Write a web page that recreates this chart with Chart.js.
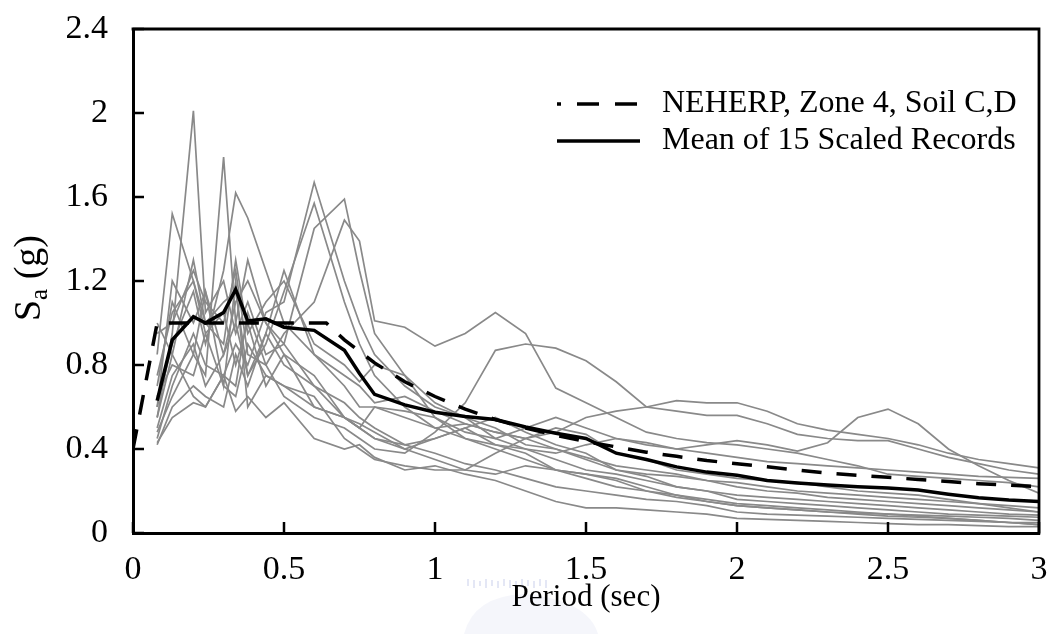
<!DOCTYPE html>
<html>
<head>
<meta charset="utf-8">
<script src="https://cdn.jsdelivr.net/npm/chart.js@4.4.1/dist/chart.umd.min.js"></script>
<style>
  html, body { margin: 0; padding: 0; background: #ffffff; }
  #wrap { width: 1053px; height: 634px; position: relative; }
  canvas { display: block; }
</style>
</head>
<body>
<div id="wrap"><canvas id="chart" width="1053" height="634"></canvas></div>
<script>
// Response-spectrum periods (sec) shared by the records and their mean
const periods = [0.08, 0.13, 0.2, 0.24, 0.3, 0.34, 0.38, 0.44, 0.5, 0.6, 0.7, 0.75, 0.8,
  0.9, 1.0, 1.1, 1.2, 1.3, 1.4, 1.5, 1.6, 1.7, 1.8, 1.9, 2.0, 2.1, 2.2, 2.3, 2.4, 2.5, 2.6, 2.7, 2.8, 2.9, 3.0];

// Spectral acceleration (g) of the 15 scaled ground-motion records
const record01 = [0.55, 0.95, 2.01, 1.05, 1.20, 0.95, 1.10, 0.85, 0.90, 0.70, 0.62, 0.55, 0.50,
  0.42, 0.38, 0.33, 0.30, 0.26, 0.22, 0.20, 0.18, 0.16, 0.15, 0.13, 0.10, 0.09, 0.085, 0.08, 0.075, 0.07, 0.065, 0.06, 0.055, 0.05, 0.05];
const record02 = [0.70, 1.10, 0.85, 0.75, 1.79, 1.00, 1.30, 1.00, 0.85, 0.75, 0.55, 0.50, 0.45,
  0.42, 0.45, 0.50, 0.55, 0.48, 0.42, 0.38, 0.30, 0.27, 0.22, 0.20, 0.18, 0.17, 0.16, 0.15, 0.14, 0.13, 0.12, 0.11, 0.10, 0.09, 0.085];
const record03 = [0.60, 0.90, 1.15, 0.90, 1.25, 1.62, 1.50, 1.25, 1.00, 0.85, 0.75, 0.70, 0.62,
  0.65, 0.58, 0.52, 0.48, 0.45, 0.40, 0.36, 0.32, 0.30, 0.28, 0.25, 0.22, 0.20, 0.19, 0.17, 0.16, 0.15, 0.14, 0.13, 0.12, 0.11, 0.10];
const record04 = [0.85, 1.52, 1.20, 1.00, 0.90, 1.30, 0.95, 1.10, 1.20, 0.90, 0.80, 0.72, 0.80,
  0.75, 0.55, 0.48, 0.45, 0.50, 0.55, 0.50, 0.45, 0.42, 0.40, 0.38, 0.36, 0.34, 0.33, 0.32, 0.31, 0.30, 0.29, 0.28, 0.27, 0.265, 0.26];
const record05 = [0.45, 0.70, 0.95, 0.80, 0.75, 0.90, 0.80, 1.05, 1.10, 1.67, 1.20, 1.00, 0.85,
  0.70, 0.60, 0.55, 0.45, 0.40, 0.35, 0.30, 0.28, 0.25, 0.22, 0.20, 0.16, 0.15, 0.14, 0.13, 0.12, 0.11, 0.10, 0.09, 0.085, 0.08, 0.075];
const record06 = [0.50, 0.75, 0.90, 0.70, 0.85, 1.00, 0.75, 0.90, 1.15, 1.57, 1.10, 0.90, 0.75,
  0.60, 0.50, 0.45, 0.42, 0.38, 0.30, 0.28, 0.26, 0.22, 0.18, 0.15, 0.13, 0.12, 0.11, 0.10, 0.095, 0.09, 0.085, 0.08, 0.075, 0.07, 0.06];
const record07 = [0.60, 1.20, 1.00, 1.15, 0.85, 1.10, 1.20, 1.00, 0.90, 1.45, 1.59, 1.25, 0.95,
  0.75, 0.62, 0.55, 0.50, 0.42, 0.40, 0.35, 0.30, 0.28, 0.27, 0.25, 0.24, 0.22, 0.20, 0.19, 0.18, 0.17, 0.16, 0.15, 0.14, 0.13, 0.12];
const record08 = [0.95, 1.00, 1.25, 1.10, 1.00, 1.25, 0.85, 0.80, 0.95, 1.10, 1.49, 1.39, 1.01,
  0.98, 0.89, 0.95, 1.05, 0.95, 0.69, 0.62, 0.55, 0.48, 0.45, 0.43, 0.42, 0.40, 0.38, 0.35, 0.32, 0.28, 0.27, 0.26, 0.25, 0.24, 0.22];
const record09 = [0.42, 0.60, 0.70, 0.65, 0.60, 0.85, 0.70, 0.95, 0.80, 0.70, 0.55, 0.50, 0.60,
  0.55, 0.50, 0.52, 0.48, 0.45, 0.48, 0.55, 0.58, 0.60, 0.63, 0.62, 0.62, 0.58, 0.52, 0.49, 0.47, 0.45, 0.42, 0.38, 0.35, 0.33, 0.31];
const record10 = [0.65, 0.80, 0.75, 0.95, 0.70, 0.65, 0.90, 0.75, 0.70, 0.60, 0.55, 0.50, 0.45,
  0.40, 0.45, 0.50, 0.42, 0.40, 0.38, 0.42, 0.45, 0.43, 0.40, 0.42, 0.44, 0.42, 0.39, 0.43, 0.55, 0.59, 0.52, 0.40, 0.32, 0.25, 0.19];
const record11 = [1.00, 0.85, 0.65, 0.60, 0.75, 0.70, 1.05, 0.80, 0.65, 0.55, 0.50, 0.45, 0.40,
  0.38, 0.48, 0.62, 0.87, 0.90, 0.88, 0.82, 0.72, 0.60, 0.58, 0.56, 0.56, 0.52, 0.47, 0.45, 0.44, 0.44, 0.40, 0.36, 0.33, 0.30, 0.28];
const record12 = [0.43, 0.55, 0.62, 0.60, 0.75, 0.58, 0.65, 0.55, 0.62, 0.45, 0.40, 0.42, 0.36,
  0.30, 0.32, 0.28, 0.25, 0.20, 0.15, 0.12, 0.12, 0.11, 0.10, 0.09, 0.07, 0.065, 0.06, 0.055, 0.05, 0.045, 0.04, 0.04, 0.035, 0.03, 0.03];
const record13 = [0.75, 1.05, 1.20, 0.95, 1.05, 0.80, 1.00, 0.70, 0.85, 0.60, 0.55, 0.52, 0.48,
  0.40, 0.35, 0.30, 0.28, 0.32, 0.30, 0.26, 0.22, 0.20, 0.18, 0.16, 0.14, 0.13, 0.12, 0.11, 0.10, 0.09, 0.08, 0.07, 0.06, 0.05, 0.04];
const record14 = [0.55, 0.85, 1.30, 1.00, 1.10, 1.15, 0.75, 0.95, 1.25, 0.85, 0.70, 0.60, 0.60,
  0.58, 0.55, 0.45, 0.40, 0.35, 0.30, 0.28, 0.25, 0.20, 0.17, 0.15, 0.13, 0.12, 0.11, 0.10, 0.09, 0.08, 0.075, 0.07, 0.06, 0.05, 0.04];
const record15 = [0.48, 0.65, 0.85, 1.15, 0.70, 1.20, 0.60, 0.75, 0.70, 0.65, 0.45, 0.40, 0.35,
  0.32, 0.30, 0.30, 0.38, 0.45, 0.50, 0.47, 0.38, 0.35, 0.30, 0.28, 0.26, 0.25, 0.24, 0.22, 0.20, 0.19, 0.18, 0.16, 0.14, 0.12, 0.10];

// Mean spectrum of the 15 scaled records
const meanSpectrum = [0.63, 0.92, 1.03, 1.00, 1.05, 1.16, 1.01, 1.02, 0.98, 0.965, 0.87, 0.76, 0.66,
  0.61, 0.575, 0.555, 0.54, 0.505, 0.475, 0.45, 0.38, 0.35, 0.315, 0.29, 0.275, 0.25, 0.238, 0.228, 0.22, 0.214, 0.205, 0.185, 0.168, 0.157, 0.15];

// Code design spectrum (NEHRP, Zone 4, Soil C/D)
const codePeriods = [0, 0.08, 0.64, 0.7, 0.8, 0.9, 1.0, 1.1, 1.2, 1.3, 1.4, 1.5, 1.6, 1.7, 1.8, 1.9,
  2.0, 2.1, 2.2, 2.3, 2.4, 2.5, 2.6, 2.7, 2.8, 2.9, 3.0];
const codeSpectrum = [0.40, 1.00, 1.00, 0.92, 0.81, 0.72, 0.65, 0.59, 0.54, 0.50, 0.465, 0.435, 0.41, 0.385, 0.365, 0.345,
  0.33, 0.315, 0.30, 0.285, 0.275, 0.265, 0.255, 0.245, 0.235, 0.228, 0.22];

// Axis tick values
const xTicks = [0, 0.5, 1, 1.5, 2, 2.5, 3];
const yTicks = [0, 0.4, 0.8, 1.2, 1.6, 2, 2.4];

const records = [record01, record02, record03, record04, record05, record06, record07, record08,
  record09, record10, record11, record12, record13, record14, record15];

const SERIF = '"Liberation Serif", "Times New Roman", Times, serif';
const toPoints = (xs, ys) => xs.map((x, i) => ({ x: x, y: ys[i] }));
const fmt = v => String(Math.round(v * 10) / 10);

const datasets = [
  {
    label: 'NEHERP, Zone 4, Soil C,D',
    data: toPoints(codePeriods, codeSpectrum),
    borderColor: '#000000',
    borderWidth: 3.5,
    borderDash: [20, 15],
    order: 1
  },
  {
    label: 'Mean of 15 Scaled Records',
    data: toPoints(periods, meanSpectrum),
    borderColor: '#000000',
    borderWidth: 3.5,
    order: 0
  }
].concat(records.map((r, i) => ({
  label: 'Record ' + (i + 1),
  data: toPoints(periods, r),
  borderColor: '#898989',
  borderWidth: 1.7,
  order: 2
})));

// Faint bluish emblem printed behind the horizontal axis title
const emblem = {
  id: 'emblem',
  beforeDraw(chart) {
    const { ctx, chartArea: a } = chart;
    const cx = (a.left + a.right) / 2;
    ctx.save();
    ctx.strokeStyle = 'rgba(120, 135, 205, 0.2)';
    ctx.lineWidth = 2;
    ctx.beginPath();
    for (let i = 0; i < 14; i++) {
      const px = cx - 118 + i * 6;
      ctx.moveTo(px, 579 + (i % 3));
      ctx.lineTo(px, 586 + (i % 2) * 2);
    }
    ctx.stroke();
    ctx.fillStyle = 'rgba(125, 140, 210, 0.08)';
    ctx.beginPath();
    ctx.moveTo(cx - 122, 634);
    ctx.quadraticCurveTo(cx - 112, 596, cx - 62, 594);
    ctx.quadraticCurveTo(cx + 2, 600, cx + 12, 634);
    ctx.closePath();
    ctx.fill();
    ctx.restore();
  }
};

// Closes the frame on the top and right and draws inward tick marks
const frameTicks = {
  id: 'frameTicks',
  afterDatasetsDraw(chart) {
    const { ctx, chartArea: a, scales: { x, y } } = chart;
    ctx.save();
    ctx.strokeStyle = '#000000';
    ctx.lineWidth = 2.8;
    ctx.lineCap = 'square';
    ctx.beginPath();
    ctx.moveTo(a.left, a.top);
    ctx.lineTo(a.right, a.top);
    ctx.lineTo(a.right, a.bottom);
    ctx.stroke();
    ctx.lineCap = 'butt';
    ctx.lineWidth = 2.5;
    ctx.beginPath();
    x.ticks.forEach(t => {
      const px = x.getPixelForValue(t.value);
      ctx.moveTo(px, a.bottom);
      ctx.lineTo(px, a.bottom - 11);
    });
    y.ticks.forEach(t => {
      const py = y.getPixelForValue(t.value);
      ctx.moveTo(a.left, py);
      ctx.lineTo(a.left + 11, py);
    });
    ctx.stroke();
    ctx.restore();
  }
};

// Legend for the code spectrum and the mean, inside the plot
const legendInside = {
  id: 'legendInside',
  afterDraw(chart) {
    const { ctx, chartArea: a } = chart;
    const items = [
      { ds: chart.data.datasets[0], y: a.top + 75 },
      { ds: chart.data.datasets[1], y: a.top + 112 }
    ];
    const x0 = a.left + 424, x1 = a.left + 507, tx = a.left + 529;
    ctx.save();
    items.forEach(it => {
      ctx.strokeStyle = it.ds.borderColor;
      ctx.lineWidth = it.ds.borderWidth;
      ctx.setLineDash(it.ds.borderDash ? [22, 16] : []);
      ctx.lineDashOffset = it.ds.borderDash ? 18 : 0;
      ctx.beginPath();
      ctx.moveTo(x0, it.y);
      ctx.lineTo(x1, it.y);
      ctx.stroke();
      ctx.setLineDash([]);
      ctx.fillStyle = '#000000';
      ctx.font = '32px ' + SERIF;
      ctx.textAlign = 'left';
      ctx.textBaseline = 'middle';
      ctx.fillText(it.ds.label, tx, it.y);
    });
    ctx.restore();
  }
};

// Vertical axis title S_a (g) with a subscript
const yTitle = {
  id: 'yTitle',
  afterDraw(chart) {
    const { ctx, chartArea: a } = chart;
    const big = '38px ' + SERIF, small = '25px ' + SERIF;
    ctx.save();
    ctx.fillStyle = '#000000';
    ctx.textBaseline = 'alphabetic';
    ctx.textAlign = 'left';
    ctx.font = big;
    const wS = ctx.measureText('S').width;
    const wRest = ctx.measureText(' (g)').width;
    ctx.font = small;
    const wa = ctx.measureText('a').width;
    const total = wS + wa + wRest;
    ctx.translate(40, (a.top + a.bottom) / 2 - 3);
    ctx.rotate(-Math.PI / 2);
    let cx = -total / 2;
    ctx.font = big;
    ctx.fillText('S', cx, 0);
    cx += wS;
    ctx.font = small;
    ctx.fillText('a', cx, 7);
    cx += wa;
    ctx.font = big;
    ctx.fillText(' (g)', cx, 0);
    ctx.restore();
  }
};

new Chart(document.getElementById('chart'), {
  type: 'line',
  data: { datasets: datasets },
  options: {
    responsive: false,
    animation: false,
    devicePixelRatio: 1,
    layout: { padding: { left: 0, right: 14, top: 29, bottom: 0 } },
    elements: {
      point: { radius: 0, hoverRadius: 0 },
      line: { tension: 0, fill: false, borderJoinStyle: 'miter' }
    },
    plugins: {
      legend: { display: false },
      tooltip: { enabled: false },
      title: { display: false }
    },
    scales: {
      x: {
        type: 'linear',
        min: 0,
        max: 3,
        afterBuildTicks: s => { s.ticks = xTicks.map(v => ({ value: v })); },
        afterFit: s => {
          s.height = 101;
          s.paddingLeft = 0; s.paddingRight = 0; s.paddingTop = 0; s.paddingBottom = 0;
        },
        grid: { display: false, drawTicks: false },
        border: { display: true, color: '#000000', width: 3, z: 1 },
        ticks: {
          color: '#000000',
          font: { family: SERIF, size: 34 },
          padding: 17,
          maxRotation: 0,
          autoSkip: false,
          callback: v => fmt(v)
        },
        title: {
          display: true,
          text: 'Period (sec)',
          color: '#000000',
          font: { family: SERIF, size: 31 },
          padding: { top: 0, bottom: 18 }
        }
      },
      y: {
        type: 'linear',
        min: 0,
        max: 2.4,
        afterBuildTicks: s => { s.ticks = yTicks.map(v => ({ value: v })); },
        afterFit: s => {
          s.width = 133;
          s.paddingLeft = 0; s.paddingRight = 0; s.paddingTop = 0; s.paddingBottom = 0;
        },
        grid: { display: false, drawTicks: false },
        border: { display: true, color: '#000000', width: 3, z: 1 },
        ticks: {
          color: '#000000',
          font: { family: SERIF, size: 34 },
          padding: 25,
          autoSkip: false,
          callback: v => fmt(v)
        }
      }
    }
  },
  plugins: [emblem, frameTicks, legendInside, yTitle]
});
</script>
</body>
</html>
